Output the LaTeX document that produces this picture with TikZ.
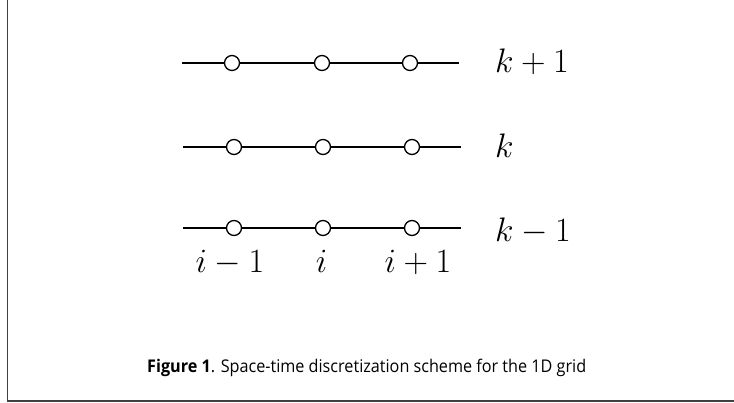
\RequirePackage{fix-cm}
\documentclass[tikz,border=0pt]{standalone}
\usepackage{fontspec}
\newfontfamily\capfont{Open Sans}[BoldFont={Open Sans Bold}]
\begin{document}
\begin{tikzpicture}[x=1pt,y=-1pt,
  gridline/.style={line width=2.6pt},
  pt/.style={circle,draw=black,fill=white,line width=1.3pt,minimum size=15pt,inner sep=0pt},
  lab/.style={inner sep=0pt,font=\fontsize{34}{40}\selectfont},
  frame/.style={draw=black!75,line width=1.6pt}]
\useasboundingbox (0,0) rectangle (734,403);
\draw[frame] (7.5,-2) -- (7.5,401) -- (736,401);
% rows
\foreach \r/\y/\xa/\xb/\ca/\cb/\cc in {1/63/182/459/232/322/410, 2/147/183/461/234/323/412, 3/228/183/461/234/323/412}{
  \coordinate (L\r) at (\xa,\y);
  \coordinate (R\r) at (\xb,\y);
  \draw[gridline] (L\r) -- (R\r);
  \node[pt] (a\r) at (\ca,\y) {};
  \node[pt] (b\r) at (\cb,\y) {};
  \node[pt] (c\r) at (\cc,\y) {};
}
\node[lab,anchor=base west] (k1) at (495,73) {$k+1$};
\node[lab,anchor=base west] (k0) at (495,158) {$k$};
\node[lab,anchor=base west] (km) at (495,241.5) {$k-1$};
\node[lab,anchor=base] (im) at (230,273) {$i-1$};
\node[lab,anchor=base] (i0) at (321.5,273) {$i$};
\node[lab,anchor=base] (ip) at (418,273) {$i+1$};
\node[anchor=base west,inner sep=0pt,font=\capfont\fontsize{17.5}{20}\selectfont] (cap) at (147,373) {\scalebox{0.925}[1]{\textbf{Figure 1}. Space-time discretization scheme for the 1D grid}};
\end{tikzpicture}
\end{document}
